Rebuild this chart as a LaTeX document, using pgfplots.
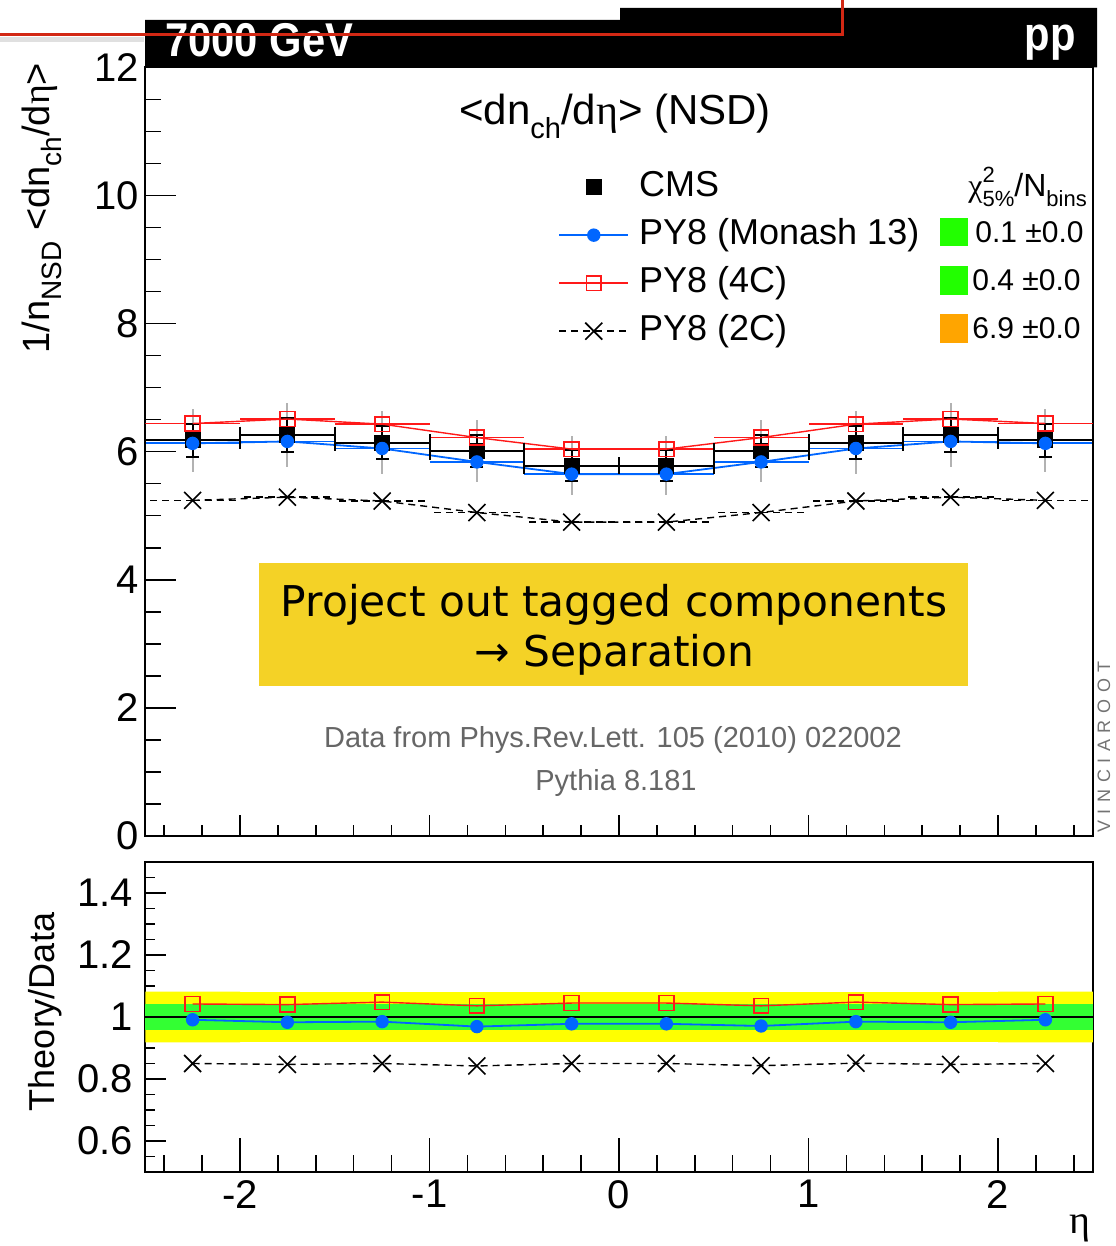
\documentclass[border=0pt]{standalone}
\usepackage{fontspec}
\setmainfont{Liberation Sans}
\newfontfamily\serifg{Liberation Serif}
\newfontfamily\dejavu{DejaVu Sans}
\usepackage{pgfplots}
\usepackage{pgfplotstable}
\pgfplotsset{compat=1.18}
\definecolor{mblue}{RGB}{0,102,255}
\definecolor{mred}{RGB}{255,25,25}
\definecolor{boxyellow}{RGB}{244,210,38}
\definecolor{bandyellow}{RGB}{255,255,0}
\definecolor{bandgreen}{RGB}{51,255,51}
\definecolor{chigreen}{RGB}{34,255,0}
\definecolor{chiorange}{RGB}{255,165,0}
\definecolor{slidered}{RGB}{210,40,20}
\newcommand\fs[1]{\fontsize{#1}{#1}\selectfont}
\newcommand\geta{{\serifg η}}

\pgfplotsset{
  mylegend/.style={legend image code/.code={\draw[mark repeat=2,mark phase=2,##1] plot coordinates {(0pt,0pt) (17.25pt,0pt) (34.5pt,0pt)};}},
  mylegendpt/.style={legend image code/.code={\path[draw=none,fill=none] (0pt,0pt) -- (34.5pt,0pt); \draw[##1] plot coordinates {(17.25pt,0pt)};}},
  base/.style={scale only axis, width=473.75pt, xmin=-2.5, xmax=2.5,
    tick align=inside, axis line style={line width=1pt},
    tick style={line width=0.75pt, black}, tick label style={font=\fs{20}}, clip=false},
  redst/.style={mred, line width=0.7pt, mark=square, mark size=3.7pt, mark options={solid, line width=0.8pt}},
  bluest/.style={mblue, line width=0.9pt, mark=*, mark size=2.9pt, mark options={solid}},
  blackst/.style={black, line width=0.7pt, dash pattern=on 3.5pt off 2.5pt, mark=x, mark size=6pt, mark options={solid, line width=0.8pt}},
  segs/.style={forget plot, draw=none, mark=none, error bars/.cd, x dir=both, x fixed=0.25, error mark=none},
}

\pgfplotstableread{
x cms e1 e2 mon c4 c2
-2.25 6.18 0.26 0.49 6.13 6.44 5.24
-1.75 6.26 0.26 0.50 6.16 6.51 5.29
-1.25 6.14 0.26 0.49 6.05 6.43 5.23
-0.75 6.01 0.25 0.48 5.84 6.22 5.05
-0.25 5.78 0.24 0.46 5.65 6.04 4.90
0.25 5.78 0.24 0.46 5.65 6.04 4.90
0.75 6.01 0.25 0.48 5.84 6.22 5.05
1.25 6.14 0.26 0.49 6.05 6.43 5.23
1.75 6.26 0.26 0.50 6.16 6.51 5.29
2.25 6.18 0.26 0.49 6.13 6.44 5.24
}\topdata

% CMS bin edges (ends of the horizontal bars)
\pgfplotstableread{
x y
-2.5 6.18
-2.0 6.18
-2.0 6.26
-1.5 6.26
-1.5 6.14
-1.0 6.14
-1.0 6.01
-0.5 6.01
-0.5 5.78
0.0 5.78
0.5 5.78
0.5 6.01
1.0 6.01
1.0 6.14
1.5 6.14
1.5 6.26
2.0 6.26
2.0 6.18
2.5 6.18
}\edgedata

\pgfplotstableread{
x mon c4 c2
-2.25 0.991 1.042 0.850
-1.75 0.983 1.040 0.847
-1.25 0.985 1.048 0.850
-0.75 0.969 1.036 0.842
-0.25 0.978 1.045 0.850
0.25 0.978 1.045 0.850
0.75 0.971 1.036 0.843
1.25 0.985 1.048 0.851
1.75 0.983 1.040 0.847
2.25 0.991 1.042 0.850
}\ratiodata

\begin{document}
\begin{tikzpicture}
\path[use as bounding box] (0pt,0pt) rectangle (557.5pt,623pt);

% ---------------- top panel ----------------
\begin{axis}[base, clip=true, at={(72.625pt,205pt)}, anchor=south west, height=384.3pt,
  ymin=0, ymax=12, ytick={0,2,4,6,8,10,12}, yticklabels={0,2,4,6,8,10,12},
  minor ytick={0.5,1,1.5,2.5,3,3.5,4.5,5,5.5,6.5,7,7.5,8.5,9,9.5,10.5,11,11.5},
  xtick=\empty, ytick pos=left, major tick length=15.5pt, minor tick length=8pt,
  yticklabel style={anchor=east, inner sep=0pt, xshift=-3pt},
  legend cell align=left,
  legend style={at={(0.4356,0.8668)}, anchor=north west, draw=none, fill=none,
    font=\fs{18}, row sep=7pt, inner sep=0pt,
    nodes={inner sep=0pt, text height=13pt, text depth=4pt},
    /tikz/every odd column/.append style={column sep=5pt}},
  ]
\addlegendimage{only marks, mylegendpt, mark=square*, mark size=3.75pt, black}
\addlegendentry{CMS}
\addlegendimage{mylegend, bluest}
\addlegendentry{PY8 (Monash 13)}
\addlegendimage{mylegend, redst}
\addlegendentry{PY8 (4C)}
\addlegendimage{mylegend, blackst}
\addlegendentry{PY8 (2C)}

% grey total uncertainty
\addplot[forget plot, draw=none, mark=none, error bars/.cd, y dir=both, y explicit,
  error mark=none, error bar style={draw=black!30, line width=1pt}]
  table[x=x, y=cms, y error=e2] {\topdata};
% model bin segments
\addplot[segs, error bar style={draw=mred, line width=0.7pt}] table[x=x, y=c4] {\topdata};
\addplot[segs, error bar style={draw=mblue, line width=0.9pt}] table[x=x, y=mon] {\topdata};
\addplot[segs, error bar style={draw=black, line width=0.7pt, dash pattern=on 3.5pt off 2.5pt}] table[x=x, y=c2] {\topdata};
% CMS bins
\addplot[segs, error bar style={draw=black, line width=1pt}] table[x=x, y=cms] {\topdata};
\addplot[forget plot, only marks, mark=|, mark size=4.25pt, mark options={line width=1pt}, black]
  table[x=x, y=y] {\edgedata};
\addplot[forget plot, draw=none, mark=none, error bars/.cd, y dir=both, y explicit,
  error bar style={draw=black, line width=1pt}, error mark options={rotate=90, draw=black, mark size=3.25pt, line width=1pt}]
  table[x=x, y=cms, y error=e1] {\topdata};
\addplot[forget plot, only marks, mark=square*, mark size=3.75pt, black]
  table[x=x, y=cms] {\topdata};
% models
\addplot[forget plot, blackst] table[x=x, y=c2] {\topdata};
\addplot[forget plot, bluest] table[x=x, y=mon] {\topdata};
\addplot[forget plot, redst] table[x=x, y=c4] {\topdata};
\end{axis}

\begin{axis}[base, at={(72.625pt,205pt)}, anchor=south west, height=384.3pt,
  ymin=0, ymax=1, ytick=\empty, xtick={-2,-1,0,1,2}, xticklabel=\empty,
  minor xtick={-2.4,-2.2,-1.8,-1.6,-1.4,-1.2,-0.8,-0.6,-0.4,-0.2,0.2,0.4,0.6,0.8,1.2,1.4,1.6,1.8,2.2,2.4},
  xtick pos=bottom, major tick length=10.5pt, minor tick length=5.5pt,
  axis line style={draw=none}]
\end{axis}

% ---------------- ratio panel ----------------
\begin{axis}[base, at={(72.625pt,37pt)}, anchor=south west, height=155pt,
  ymin=0.5, ymax=1.5, ytick={0.6,0.8,1,1.2,1.4}, yticklabels={0.6,0.8,1,1.2,1.4},
  minor ytick={0.55,0.65,0.7,0.75,0.85,0.9,0.95,1.05,1.1,1.15,1.25,1.3,1.35,1.45},
  xtick=\empty, ytick pos=left, major tick length=10.5pt, minor tick length=5pt,
  yticklabel style={anchor=east, inner sep=0pt, xshift=-6pt}]
\addplot[forget plot, fill=bandyellow, draw=none] coordinates {
  (-2.5,1.082) (-2,1.082) (-2,1.080) (2,1.080) (2,1.082) (2.5,1.082)
  (2.5,0.918) (2,0.918) (2,0.920) (-2,0.920) (-2,0.918) (-2.5,0.918)} -- cycle;
\addplot[forget plot, fill=bandgreen, draw=none] coordinates {
  (-2.5,1.042) (2.5,1.042) (2.5,0.958) (-2.5,0.958)} -- cycle;
\addplot[forget plot, black, line width=1pt] coordinates {(-2.5,1) (2.5,1)};
\addplot[forget plot, blackst] table[x=x, y=c2] {\ratiodata};
\addplot[forget plot, bluest] table[x=x, y=mon] {\ratiodata};
\addplot[forget plot, redst] table[x=x, y=c4] {\ratiodata};
\end{axis}

\begin{axis}[base, at={(72.625pt,37pt)}, anchor=south west, height=155pt,
  ymin=0, ymax=1, ytick=\empty, xtick={-2,-1,0,1,2}, xticklabels={-2,-1,0,1,2},
  minor xtick={-2.4,-2.2,-1.8,-1.6,-1.4,-1.2,-0.8,-0.6,-0.4,-0.2,0.2,0.4,0.6,0.8,1.2,1.4,1.6,1.8,2.2,2.4},
  xtick pos=bottom, major tick length=17pt, minor tick length=8.5pt,
  xticklabel style={anchor=north, inner sep=0pt, yshift=-4pt},
  axis line style={draw=none}]
\end{axis}

% ---------------- texts ----------------
\node[anchor=base, inner sep=0pt, font=\fs{21}] at (307.5pt,560.5pt)
  {<dn\raisebox{-7pt}{\fs{14.5}ch}/d\geta> (NSD)};
\node[rotate=90, font=\fs{19}, inner sep=0pt] at (21pt,519pt)
  {1/n\raisebox{-6pt}{\fs{14}NSD} <dn\raisebox{-6pt}{\fs{14}ch}/d\geta>};
\node[rotate=90, font=\fs{18}, inner sep=0pt] at (22.5pt,117pt) {Theory/Data};
\node[font=\fs{20}, inner sep=0pt] at (540pt,9pt) {\geta};

% chi2 column
\node[anchor=base west, inner sep=0pt, font=\fs{16}] at (484pt,524.5pt)
  {{\serifg χ}\rlap{\raisebox{7pt}{\fs{11}2}}\raisebox{-5pt}{\fs{11}5\%}/N\raisebox{-5pt}{\fs{11}bins}};
\fill[chigreen] (470pt,500pt) rectangle (484pt,514pt);
\fill[chigreen] (470pt,475.5pt) rectangle (484pt,490pt);
\fill[chiorange] (470pt,451.5pt) rectangle (484pt,466pt);
\node[anchor=west, inner sep=0pt, font=\fs{15}] at (487.5pt,507pt) {0.1 ±0.0};
\node[anchor=west, inner sep=0pt, font=\fs{15}] at (486pt,483pt) {0.4 ±0.0};
\node[anchor=west, inner sep=0pt, font=\fs{15}] at (486pt,459pt) {6.9 ±0.0};

% yellow box
\fill[boxyellow] (129.5pt,280pt) rectangle (484pt,341.5pt);
\node[anchor=base, inner sep=0pt, font=\dejavu\fs{21.2}] at (307pt,314.5pt) {Project out tagged components};
\node[anchor=base, inner sep=0pt, font=\dejavu\fs{21.2}] at (307.25pt,289.5pt) {→ Separation};

% notes
\node[text=black!60, font=\fs{14.5}, inner sep=0pt] at (306.5pt,253pt) {Data from Phys.Rev.Lett. 105 (2010) 022002};
\node[text=black!60, font=\fs{14.5}, inner sep=0pt] at (308pt,231.5pt) {Pythia 8.181};
\node[rotate=90, text=black!55, font=\fs{9}, inner sep=0pt] at (552pt,249.5pt)
  {V\kern3.3pt I\kern3.3pt N\kern3.3pt C\kern3.3pt I\kern3.3pt A\kern3.3pt R\kern3.3pt O\kern3.3pt O\kern3.3pt T};

% header bar
\fill[black] (72.5pt,589.3pt) -- (72.5pt,613pt) -- (310pt,613pt) -- (310pt,619pt)
  -- (548.5pt,619pt) -- (548.5pt,589.3pt) -- cycle;
\node[anchor=base west, inner sep=0pt, text=white, font=\fs{23.7}\bfseries, xscale=0.88] at (82.5pt,594.5pt) {7000 GeV};
\node[anchor=base east, inner sep=0pt, text=white, font=\fs{23.7}\bfseries, xscale=0.88] at (538pt,597.5pt) {pp};
\draw[black, opacity=0.12, line width=2.5pt] (0pt,603pt) -- (72pt,603pt);
\draw[slidered, line width=1.5pt] (0pt,605.5pt) -- (421pt,605.5pt) -- (421pt,623pt);
\end{tikzpicture}
\end{document}
